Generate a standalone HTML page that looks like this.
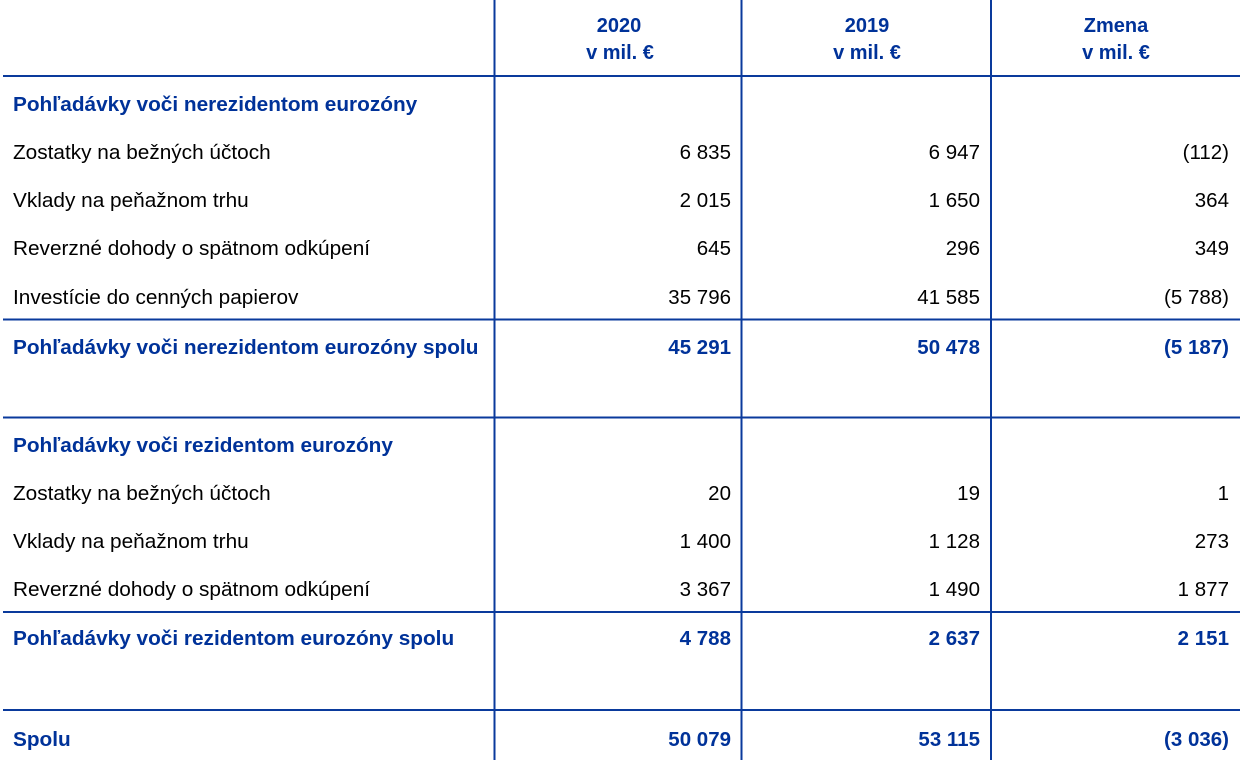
<!DOCTYPE html>
<html>
<head>
<meta charset="utf-8">
<style>
html,body{margin:0;padding:0;background:#fff;}
svg{display:block;}
text{font-family:"Liberation Sans",Arial,sans-serif;font-size:20px;}
.b{font-weight:bold;fill:#003299;}
.n{fill:#000;}
.r{text-anchor:end;transform-box:fill-box;transform-origin:right center;transform:scaleX(1.025);}
.l{transform-box:fill-box;transform-origin:left center;transform:scaleX(1.04);}
.c{text-anchor:middle;}
</style>
</head>
<body>
<svg width="1240" height="768" viewBox="0 0 1240 768" xmlns="http://www.w3.org/2000/svg">
<g stroke="#0a3a9c" stroke-width="2" fill="none">
<line x1="3" y1="76" x2="1240" y2="76"/>
<line x1="3" y1="319.5" x2="1240" y2="319.5"/>
<line x1="3" y1="417.5" x2="1240" y2="417.5"/>
<line x1="3" y1="612" x2="1240" y2="612"/>
<line x1="3" y1="710" x2="1240" y2="710"/>
<line x1="494.5" y1="0" x2="494.5" y2="760"/>
<line x1="741.5" y1="0" x2="741.5" y2="760"/>
<line x1="991" y1="0" x2="991" y2="760"/>
</g>

<!-- header -->
<text class="b c" x="619" y="32">2020</text>
<text class="b c" x="620" y="59">v mil. €</text>
<text class="b c" x="867" y="32">2019</text>
<text class="b c" x="867" y="59">v mil. €</text>
<text class="b c" x="1116" y="32">Zmena</text>
<text class="b c" x="1116" y="59">v mil. €</text>

<!-- section 1 -->
<text class="b l" x="13" y="111">Pohľadávky voči nerezidentom eurozóny</text>

<text class="n l" x="13" y="159">Zostatky na bežných účtoch</text>
<text class="n r" x="731" y="159">6 835</text>
<text class="n r" x="980" y="159">6 947</text>
<text class="n r" x="1229" y="159">(112)</text>

<text class="n l" x="13" y="207">Vklady na peňažnom trhu</text>
<text class="n r" x="731" y="207">2 015</text>
<text class="n r" x="980" y="207">1 650</text>
<text class="n r" x="1229" y="207">364</text>

<text class="n l" x="13" y="255">Reverzné dohody o spätnom odkúpení</text>
<text class="n r" x="731" y="255">645</text>
<text class="n r" x="980" y="255">296</text>
<text class="n r" x="1229" y="255">349</text>

<text class="n l" x="13" y="304">Investície do cenných papierov</text>
<text class="n r" x="731" y="304">35 796</text>
<text class="n r" x="980" y="304">41 585</text>
<text class="n r" x="1229" y="304">(5 788)</text>

<text class="b l" x="13" y="354">Pohľadávky voči nerezidentom eurozóny spolu</text>
<text class="b r" x="731" y="354">45 291</text>
<text class="b r" x="980" y="354">50 478</text>
<text class="b r" x="1229" y="354">(5 187)</text>

<!-- section 2 -->
<text class="b l" x="13" y="452">Pohľadávky voči rezidentom eurozóny</text>

<text class="n l" x="13" y="500">Zostatky na bežných účtoch</text>
<text class="n r" x="731" y="500">20</text>
<text class="n r" x="980" y="500">19</text>
<text class="n r" x="1229" y="500">1</text>

<text class="n l" x="13" y="548">Vklady na peňažnom trhu</text>
<text class="n r" x="731" y="548">1 400</text>
<text class="n r" x="980" y="548">1 128</text>
<text class="n r" x="1229" y="548">273</text>

<text class="n l" x="13" y="596">Reverzné dohody o spätnom odkúpení</text>
<text class="n r" x="731" y="596">3 367</text>
<text class="n r" x="980" y="596">1 490</text>
<text class="n r" x="1229" y="596">1 877</text>

<text class="b l" x="13" y="645">Pohľadávky voči rezidentom eurozóny spolu</text>
<text class="b r" x="731" y="645">4 788</text>
<text class="b r" x="980" y="645">2 637</text>
<text class="b r" x="1229" y="645">2 151</text>

<text class="b l" x="13" y="746">Spolu</text>
<text class="b r" x="731" y="746">50 079</text>
<text class="b r" x="980" y="746">53 115</text>
<text class="b r" x="1229" y="746">(3 036)</text>
</svg>
</body>
</html>
